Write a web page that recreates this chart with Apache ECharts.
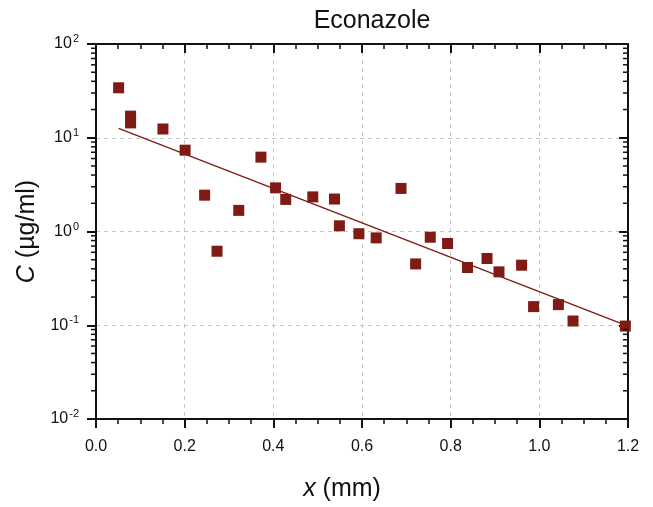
<!DOCTYPE html>
<html>
<head>
<meta charset="utf-8">
<script src="https://cdn.jsdelivr.net/npm/echarts@6/dist/echarts.min.js"></script>
<style>html,body{margin:0;padding:0;background:#fff;overflow:hidden;}#c{width:653px;height:507px;}</style>
</head>
<body>
<div id="c"></div>
<script>
// Data
const xVals = [0.051,0.078,0.078,0.151,0.201,0.245,0.273,0.322,0.372,0.405,0.428,0.489,0.538,0.549,0.593,0.632,0.688,0.721,0.754,0.793,0.838,0.882,0.909,0.960,0.987,1.043,1.076,1.194];
const cVals = [34.1,17.0,14.4,12.4,7.37,2.44,0.616,1.68,6.21,2.92,2.20,2.34,2.22,1.15,0.947,0.855,2.88,0.451,0.869,0.745,0.413,0.515,0.371,0.437,0.158,0.166,0.111,0.098];
const fitX = [0.051, 1.2];
const fitC = [12.6, 0.098];
const xTicks = [0.0, 0.2, 0.4, 0.6, 0.8, 1.0, 1.2];
const yDecades = [-2, -1, 0, 1, 2];
const titleText = 'Econazole';

const FONT = '"Liberation Sans", Arial, Helvetica, sans-serif';
const RED = '#7f1a14';
const AX = '#111';

// minor tick values on the log axis (2..9 x 10^k)
const minorVals = [];
for (let k = yDecades[0]; k < yDecades[yDecades.length - 1]; k++) {
  for (let m = 2; m <= 9; m++) minorVals.push([0, m * Math.pow(10, k)]);
}

const chart = echarts.init(document.getElementById('c'), null, {renderer: 'canvas', width: 653, height: 507});
const xmin = xTicks[0], xmax = xTicks[xTicks.length - 1];
const ymin = Math.pow(10, yDecades[0]), ymax = Math.pow(10, yDecades[yDecades.length - 1]);

const option = {
  backgroundColor: '#fff',
  animation: false,
  title: {
    text: titleText, left: 367, top: 4, textAlign: 'center',
    textStyle: {fontFamily: FONT, fontSize: 25, fontWeight: 'normal', color: '#111'}
  },
  grid: {left: 96, top: 44, width: 532, height: 375, containLabel: false},
  xAxis: [{
    type: 'value', min: xmin, max: xmax, interval: 0.2, position: 'bottom',
    name: '{i|x} (mm)', nameLocation: 'middle', nameGap: 58,
    nameTextStyle: {fontFamily: FONT, fontSize: 25, color: '#111', padding: [0, 40, 0, 0],
      rich: {i: {fontFamily: FONT, fontSize: 25, fontStyle: 'italic', color: '#111'}}},
    axisLine: {show: true, onZero: false, lineStyle: {color: AX, width: 2}},
    axisTick: {show: true, inside: false, length: 9, lineStyle: {color: AX, width: 2}},
    minorTick: {show: true, splitNumber: 4, length: 5, lineStyle: {color: AX, width: 1.5}},
    axisLabel: {margin: 20, fontFamily: FONT, fontSize: 16, color: '#111',
      formatter: v => v.toFixed(1)},
    splitLine: {show: true, lineStyle: {color: '#c8c8c8', type: [4, 4], width: 1}}
  }, {
    type: 'value', min: xmin, max: xmax, interval: 0.2, position: 'top',
    axisLine: {show: true, onZero: false, lineStyle: {color: AX, width: 2}},
    axisTick: {show: true, inside: true, length: 9, lineStyle: {color: AX, width: 2}},
    minorTick: {show: true, splitNumber: 4, length: 5, lineStyle: {color: AX, width: 1.5}},
    axisLabel: {show: false},
    splitLine: {show: false}
  }],
  yAxis: [{
    type: 'log', logBase: 10, min: ymin, max: ymax, position: 'left',
    name: '{i|C} (µg/ml)', nameLocation: 'middle', nameGap: 55,
    nameTextStyle: {fontFamily: FONT, fontSize: 25, color: '#111',
      rich: {i: {fontFamily: FONT, fontSize: 25, fontStyle: 'italic', color: '#111'}}},
    axisLine: {show: true, onZero: false, lineStyle: {color: AX, width: 2}},
    axisTick: {show: true, inside: false, length: 9, lineStyle: {color: AX, width: 2}},
    axisLabel: {margin: 17, fontFamily: FONT, fontSize: 16, color: '#111',
      formatter: v => '{b|10}{s|' + Math.round(Math.log10(v)) + '}',
      rich: {
        b: {fontFamily: FONT, fontSize: 16, color: '#111'},
        s: {fontFamily: FONT, fontSize: 11, color: '#111', padding: [0, 0, 10, 1]}
      }},
    splitLine: {show: true, lineStyle: {color: '#c8c8c8', type: [4, 4], width: 1}}
  }, {
    type: 'log', logBase: 10, min: ymin, max: ymax, position: 'right',
    axisLine: {show: true, onZero: false, lineStyle: {color: AX, width: 2}},
    axisTick: {show: true, inside: true, length: 9, lineStyle: {color: AX, width: 2}},
    axisLabel: {show: false},
    splitLine: {show: false}
  }],
  series: [{
    type: 'custom', xAxisIndex: 0, yAxisIndex: 0, silent: true, clip: false, z: 5,
    data: minorVals,
    renderItem: function (params, api) {
      const v = api.value(1);
      const p = api.coord([xmin, v]);
      const q = api.coord([xmax, v]);
      const st = {stroke: AX, lineWidth: 1.5};
      return {type: 'group', children: [
        {type: 'line', shape: {x1: p[0] - 5, y1: p[1], x2: p[0], y2: p[1]}, style: st},
        {type: 'line', shape: {x1: q[0] - 5, y1: q[1], x2: q[0], y2: q[1]}, style: st}
      ]};
    }
  }, {
    type: 'line', xAxisIndex: 0, yAxisIndex: 0, silent: true,
    data: fitX.map((x, i) => [x, fitC[i]]),
    showSymbol: false, symbol: 'none',
    lineStyle: {color: RED, width: 1.3}, z: 3
  }, {
    type: 'scatter', xAxisIndex: 0, yAxisIndex: 0,
    data: xVals.map((x, i) => [x, cVals[i]]),
    symbol: 'rect', symbolSize: 11,
    itemStyle: {color: RED, opacity: 1}, z: 4
  }]
};
chart.setOption(option);
</script>
</body>
</html>
